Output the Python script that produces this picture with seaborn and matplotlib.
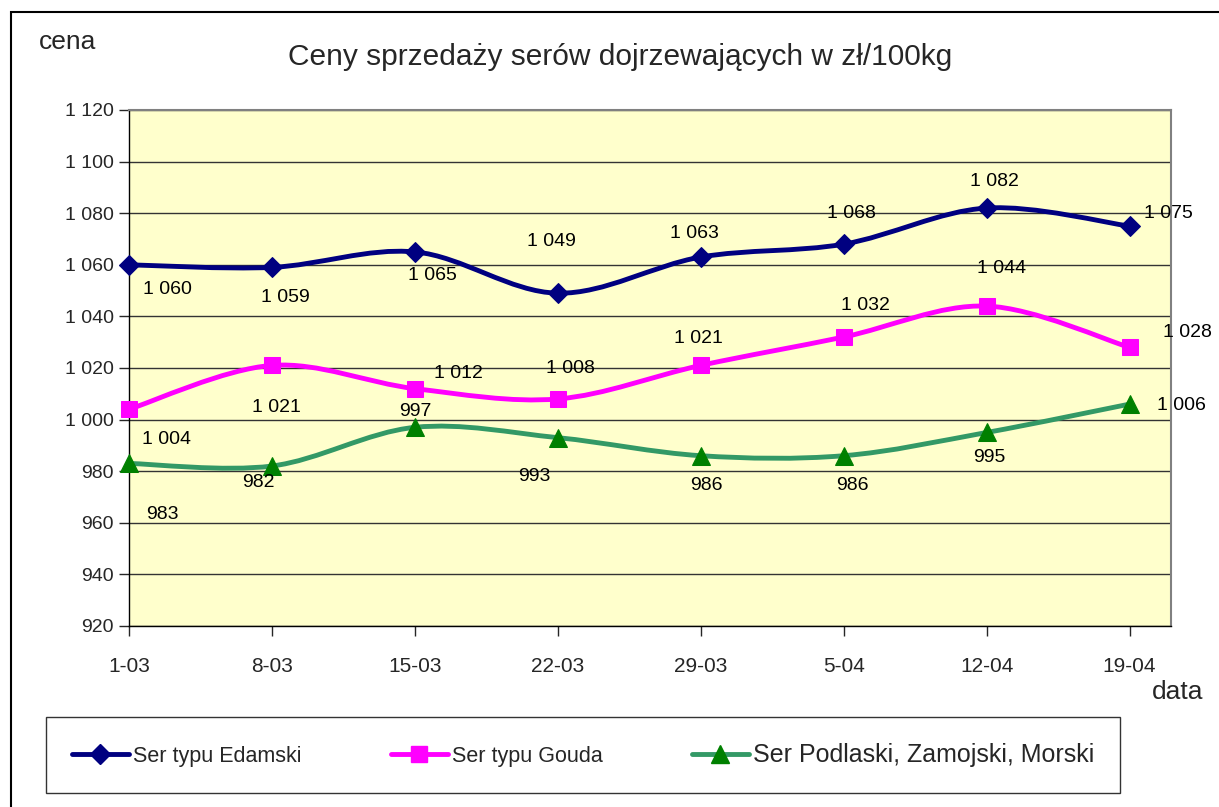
import numpy as np
import pandas as pd
import matplotlib
matplotlib.use("Agg")
import matplotlib.pyplot as plt
from matplotlib.path import Path
from matplotlib.patches import PathPatch, Rectangle
from matplotlib.lines import Line2D
import seaborn as sns

# dane
dates = ["1-03", "8-03", "15-03", "22-03", "29-03", "5-04", "12-04", "19-04"]
edamski = [1060, 1059, 1065, 1049, 1063, 1068, 1082, 1075]
gouda = [1004, 1021, 1012, 1008, 1021, 1032, 1044, 1028]
podlaski = [983, 982, 997, 993, 986, 986, 995, 1006]
names = ["Ser typu Edamski", "Ser typu Gouda", "Ser Podlaski, Zamojski, Morski"]
yticks = list(range(920, 1121, 20))

sns.set_style("white")
plt.rcParams["font.family"] = ["Liberation Sans", "DejaVu Sans"]

df = pd.DataFrame({"pos": np.arange(len(dates)), "data": dates,
                   names[0]: edamski, names[1]: gouda, names[2]: podlaski})

fig = plt.figure(figsize=(12.19, 8.07), dpi=100)
ax = fig.add_axes([0.1058, 0.2243, 0.8548, 0.6394])
ax.set_facecolor("#FFFFCC")


def smooth_path(xs, ys):
    # wygladzona linia jak w Excelu (krzywe Beziera przez punkty)
    pts = np.column_stack([xs, ys]).astype(float)
    n = len(pts)
    verts = [pts[0]]
    codes = [Path.MOVETO]
    for i in range(n - 1):
        p0 = pts[max(i - 1, 0)]
        p1 = pts[i]
        p2 = pts[i + 1]
        p3 = pts[min(i + 2, n - 1)]
        verts += [p1 + (p2 - p0) / 6, p2 - (p3 - p1) / 6, p2]
        codes += [Path.CURVE4] * 3
    return Path(verts, codes)


styles = [
    dict(line="#000080", mc="#000080", marker="D", ms=10),
    dict(line="#FF00FF", mc="#FF00FF", marker="s", ms=11),
    dict(line="#339966", mc="#008000", marker="^", ms=13),
]

# przesuniecia etykiet w pikselach (dx, dy w dol)
offsets = [
    [(38, 25), (13, 30), (18, 24), (-6, -52), (-6, -24), (8, -31), (8, -27), (39, -13)],
    [(38, 30), (5, 42), (44, -15), (13, -30), (-2, -27), (22, -32), (15, -38), (58, -15)],
    [(33, 51), (-14, 16), (0, -16), (-23, 39), (6, 30), (9, 30), (3, 25), (52, 1)],
]

for name, st, offs in zip(names, styles, offsets):
    ax.add_patch(PathPatch(smooth_path(df["pos"], df[name]), facecolor="none",
                           edgecolor=st["line"], lw=3.5, zorder=3, capstyle="round"))
    sns.lineplot(data=df, x="pos", y=name, ax=ax, linestyle="", marker=st["marker"],
                 markersize=st["ms"], markerfacecolor=st["mc"], markeredgecolor=st["mc"],
                 color=st["mc"], zorder=4)
    ax.lines[-1].set_clip_on(False)
    for xi, v, (dx, dy) in zip(df["pos"], df[name], offs):
        lab = f"{v:,}".replace(",", " ")
        ax.annotate(lab, (xi, v), xytext=(dx, -dy), textcoords="offset pixels",
                    ha="center", va="center", fontsize=14, color="black", zorder=5)

ax.set_xlim(0, 7.29)
ax.set_ylim(920, 1120)
ax.set_yticks(yticks)
ax.set_yticklabels([f"{t:,}".replace(",", " ") for t in yticks])
ax.set_xticks(df["pos"])
ax.set_xticklabels(dates)
ax.grid(axis="y", color="#333333", lw=1)
ax.set_axisbelow(True)
ax.tick_params(axis="y", length=7, width=1, labelsize=14, pad=4, left=True)
ax.tick_params(axis="x", length=7, width=1, labelsize=15, pad=15, bottom=True)
ax.set_xlabel("")
ax.set_ylabel("")
for s in ["left", "bottom"]:
    ax.spines[s].set_color("black")
    ax.spines[s].set_linewidth(1)
for s in ["top", "right"]:
    ax.spines[s].set_color("#808080")
    ax.spines[s].set_linewidth(1.5)

fig.text(0.509, 0.929, "Ceny sprzedaży serów dojrzewających w zł/100kg",
         ha="center", va="center", fontsize=21.5)
fig.text(68 / 1219, 1 - 42 / 807, "cena", ha="center", va="center", fontsize=19)
fig.text(1178 / 1219, 1 - 692 / 807, "data", ha="center", va="center", fontsize=19)

handles = [Line2D([], [], color=st["line"], lw=3.5, marker=st["marker"],
                  markersize=st["ms"], markerfacecolor=st["mc"],
                  markeredgecolor=st["mc"]) for st in styles]
leg = fig.legend(handles, names, loc="center",
                 bbox_to_anchor=(46 / 1219, 1 - 797 / 807, 1074 / 1219, 84 / 807),
                 mode="expand", ncol=3, fontsize=15.5, frameon=True, fancybox=False,
                 handlelength=2.65, handletextpad=0.2, columnspacing=1.0,
                 borderpad=1.2, borderaxespad=0)
leg.get_texts()[2].set_fontsize(18)
leg.get_frame().set_edgecolor("black")
leg.get_frame().set_linewidth(1)

fig.patches.append(Rectangle((11 / 1219, -0.02), 1.1, 1 - 12 / 807 + 0.02,
                             transform=fig.transFigure, fill=False,
                             edgecolor="black", lw=1.5))

fig.savefig("out.png", dpi=100)
